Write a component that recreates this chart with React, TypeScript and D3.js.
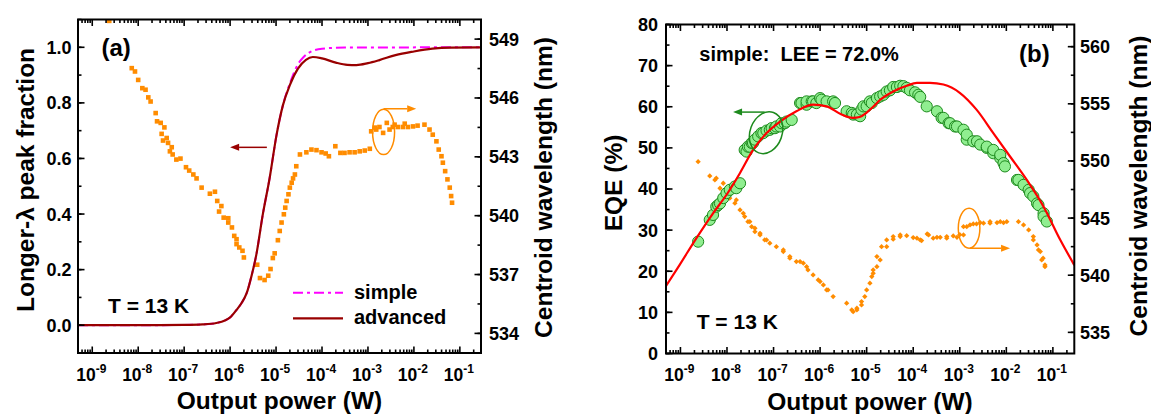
import React from "react";
import * as d3 from "d3";

const FONT = "'Liberation Sans', Arial, Helvetica, sans-serif";
const ORANGE = "#ff8c00";
const DARKRED = "#990000";
const MAGENTA = "#ff00ff";
const RED = "#ff0000";
const GREEN_FILL = "#90ee90";
const GREEN_STROKE = "#1d8a1d";

// all x values are log10(output power / W)
const xExp = [-9, -8, -7, -6, -5, -4, -3, -2, -1];
const xDomain = [Math.pow(10, -9.31), Math.pow(10, -0.54)];

// ---- panel (a)
const aFracTicks = [0, 0.2, 0.4, 0.6, 0.8, 1.0];
const aWaveTicks = [534, 537, 540, 543, 546, 549];

const aAdvanced: [number, number][] = [
  [-9.31, 0], [-8, 0], [-7, 0.001], [-6.6, 0.003], [-6.3, 0.008], [-6.1, 0.018], [-6.0, 0.028],
  [-5.86, 0.055], [-5.75, 0.08], [-5.64, 0.115], [-5.53, 0.18], [-5.43, 0.253], [-5.29, 0.397],
  [-5.14, 0.529], [-4.99, 0.684], [-4.85, 0.792], [-4.7, 0.864], [-4.52, 0.924], [-4.35, 0.955],
  [-4.2, 0.965], [-4.0, 0.96], [-3.7, 0.945], [-3.45, 0.937], [-3.25, 0.936], [-3.0, 0.943],
  [-2.75, 0.954], [-2.4, 0.972], [-2.0, 0.985], [-1.6, 0.995], [-1.2, 0.999], [-0.54, 1.0],
];
const aSimple: [number, number][] = [
  [-9.31, 0], [-8, 0], [-7, 0.001], [-6.6, 0.003], [-6.3, 0.008], [-6.1, 0.018], [-6.0, 0.028],
  [-5.86, 0.055], [-5.75, 0.08], [-5.64, 0.115], [-5.53, 0.18], [-5.43, 0.253], [-5.29, 0.397],
  [-5.14, 0.529], [-4.99, 0.684], [-4.85, 0.792], [-4.7, 0.87], [-4.52, 0.94], [-4.4, 0.965],
  [-4.27, 0.982], [-4.0, 0.995], [-3.5, 0.999], [-0.54, 1.0],
];
const aCentroid: [number, number][] = [
  [-8.63, 549.93], [-8.14, 547.52], [-8.07, 547.35], [-8.0, 546.92], [-7.91, 546.5], [-7.84, 546.42],
  [-7.78, 546.03], [-7.73, 545.82], [-7.62, 545.23], [-7.59, 544.81], [-7.51, 544.73], [-7.49, 544.17],
  [-7.46, 543.83], [-7.43, 544.5], [-7.38, 543.96], [-7.35, 543.71], [-7.31, 543.28], [-7.27, 543.49],
  [-7.25, 543.12], [-7.17, 542.86], [-7.08, 542.91], [-6.96, 542.47], [-6.89, 542.3], [-6.8, 542.1],
  [-6.73, 541.9], [-6.62, 541.43], [-6.44, 541.12], [-6.33, 541.22], [-6.28, 540.75], [-6.24, 540.21],
  [-6.19, 540.49], [-6.14, 539.9], [-6.04, 539.87], [-6.04, 539.65], [-5.96, 539.4], [-5.91, 538.97],
  [-5.86, 538.8], [-5.86, 538.55], [-5.8, 538.38], [-5.73, 538.21], [-5.7, 537.87], [-5.41, 537.5],
  [-5.35, 536.82], [-5.25, 536.72], [-5.17, 536.94], [-5.12, 537.28], [-5.07, 537.84], [-5.03, 538.08],
  [-4.96, 538.75], [-4.92, 539.22], [-4.88, 539.65], [-4.83, 540.07], [-4.8, 540.41], [-4.77, 540.75],
  [-4.73, 541.09], [-4.7, 541.43], [-4.66, 541.68], [-4.63, 541.9], [-4.59, 542.1], [-4.56, 542.52],
  [-4.48, 543.12], [-4.34, 543.23], [-4.23, 543.37], [-4.12, 543.34], [-4.01, 543.23], [-3.92, 543.17],
  [-3.85, 543.03], [-3.71, 543.54], [-3.6, 543.2], [-3.51, 543.2], [-3.4, 543.23], [-3.29, 543.23],
  [-3.18, 543.28], [-3.07, 543.32], [-2.96, 543.41], [-2.93, 544.3], [-2.85, 544.49], [-2.82, 544.39],
  [-2.75, 544.52], [-2.67, 544.22], [-2.59, 544.73], [-2.53, 544.39], [-2.46, 544.52], [-2.42, 544.64],
  [-2.35, 544.52], [-2.24, 544.52], [-2.2, 544.69], [-2.13, 544.52], [-2.02, 544.55], [-1.92, 544.59],
  [-1.77, 544.64], [-1.66, 544.39], [-1.59, 544.13], [-1.51, 543.79], [-1.46, 543.37], [-1.4, 543.03],
  [-1.37, 542.7], [-1.32, 542.27], [-1.27, 541.85], [-1.22, 541.43], [-1.19, 541.0], [-1.17, 540.66],
];

// ---- panel (b)
const bEqeTicks = [0, 10, 20, 30, 40, 50, 60, 70, 80];
const bWaveTicks = [535, 540, 545, 550, 555, 560];

const bModel: [number, number][] = [
  [-9.31, 16.4], [-9.02, 21.5], [-8.66, 28.0], [-8.3, 34.1], [-8.01, 38.6], [-7.72, 43.9], [-7.44, 49.5],
  [-7.15, 53.6], [-6.86, 56.4], [-6.51, 58.9], [-6.15, 60.5], [-5.86, 60.1], [-5.57, 58.3], [-5.3, 57.3],
  [-5.15, 57.5], [-5.0, 58.6], [-4.86, 60.0], [-4.71, 61.7], [-4.43, 63.7], [-4.14, 65.1], [-3.92, 65.8],
  [-3.64, 65.8], [-3.35, 65.4], [-3.0, 63.4], [-2.64, 59.3], [-2.28, 53.6], [-1.92, 47.9], [-1.56, 42.2],
  [-1.2, 35.7], [-0.84, 27.6], [-0.54, 21.5],
];
const bEqe: [number, number][] = [
  [-8.62, 27.2], [-8.37, 32.5], [-8.3, 33.7], [-8.23, 35.7], [-8.19, 36.1], [-8.15, 36.5], [-8.08, 37.8],
  [-8.01, 39.0], [-7.94, 39.8], [-7.83, 40.6], [-7.8, 40.2], [-7.72, 41.4], [-7.62, 49.5], [-7.58, 49.1],
  [-7.55, 50.3], [-7.51, 50.3], [-7.47, 51.2], [-7.44, 51.2], [-7.4, 52.0], [-7.33, 52.8], [-7.26, 53.6],
  [-7.22, 53.6], [-7.15, 54.2], [-7.08, 54.4], [-7.04, 54.8], [-6.97, 54.8], [-6.94, 55.2], [-6.86, 55.2],
  [-6.83, 56.0], [-6.76, 56.0], [-6.72, 56.4], [-6.61, 56.8], [-6.43, 60.9], [-6.4, 60.9], [-6.29, 60.5],
  [-6.29, 61.3], [-6.18, 61.3], [-6.15, 61.3], [-6.08, 60.9], [-6.0, 62.1], [-5.97, 61.7], [-5.86, 61.3],
  [-5.72, 61.3], [-5.68, 60.9], [-5.43, 58.9], [-5.32, 58.5], [-5.29, 58.1], [-5.21, 58.1], [-5.14, 57.7],
  [-5.11, 59.3], [-5.07, 60.1], [-5.0, 60.1], [-4.93, 61.3], [-4.89, 60.9], [-4.78, 62.1], [-4.71, 62.5],
  [-4.64, 62.9], [-4.57, 63.7], [-4.5, 64.0], [-4.43, 64.8], [-4.35, 64.8], [-4.28, 65.1], [-4.21, 65.0],
  [-4.14, 64.6], [-4.07, 64.0], [-3.96, 63.5], [-3.89, 62.9], [-3.85, 62.4], [-3.71, 60.1], [-3.49, 58.9],
  [-3.39, 57.3], [-3.35, 57.3], [-3.24, 56.0], [-3.21, 56.0], [-3.1, 55.2], [-3.06, 55.2], [-2.92, 54.4],
  [-2.85, 52.0], [-2.85, 53.2], [-2.71, 51.6], [-2.63, 51.6], [-2.56, 50.8], [-2.42, 50.0], [-2.42, 50.3],
  [-2.28, 48.7], [-2.28, 49.5], [-2.13, 47.5], [-2.13, 48.3], [-2.06, 46.3], [-2.03, 45.5], [-1.77, 42.2],
  [-1.74, 42.2], [-1.63, 41.0], [-1.52, 39.8], [-1.49, 39.0], [-1.42, 38.2], [-1.34, 36.5], [-1.31, 36.1],
  [-1.2, 34.1], [-1.2, 33.3], [-1.13, 32.1],
];
const bCentroid: [number, number][] = [
  [-8.62, 549.94], [-8.37, 548.69], [-8.26, 548.34], [-8.23, 548.49], [-8.15, 547.61], [-8.08, 548.05],
  [-8.05, 547.03], [-7.94, 546.74], [-7.94, 547.31], [-7.83, 546.3], [-7.8, 546.59], [-7.72, 545.71],
  [-7.65, 545.42], [-7.62, 545.13], [-7.55, 544.69], [-7.51, 544.69], [-7.47, 544.25], [-7.4, 543.81],
  [-7.4, 544.11], [-7.29, 543.53], [-7.29, 543.67], [-7.19, 543.09], [-7.15, 543.09], [-7.08, 542.8],
  [-6.94, 542.5], [-6.79, 542.07], [-6.79, 542.21], [-6.65, 541.49], [-6.65, 541.63], [-6.51, 541.19],
  [-6.43, 541.19], [-6.36, 541.05], [-6.29, 540.75], [-6.26, 540.46], [-6.15, 540.03], [-6.04, 539.59],
  [-6.0, 539.44], [-5.93, 539.15], [-5.86, 538.71], [-5.83, 538.71], [-5.72, 538.13], [-5.43, 537.55],
  [-5.32, 536.96], [-5.29, 536.81], [-5.21, 537.11], [-5.21, 536.96], [-5.11, 537.69], [-5.11, 537.4],
  [-5.04, 538.13], [-5.0, 538.71], [-4.93, 539.3], [-4.89, 539.88], [-4.86, 540.17], [-4.86, 540.46],
  [-4.78, 540.75], [-4.78, 541.63], [-4.71, 541.34], [-4.68, 542.5], [-4.57, 543.09], [-4.57, 542.5],
  [-4.43, 543.38], [-4.43, 543.15], [-4.28, 543.53], [-4.28, 543.38], [-4.14, 543.46], [-4.0, 543.29],
  [-3.92, 543.24], [-3.85, 543.09], [-3.82, 543.03], [-3.7, 543.61], [-3.67, 543.53], [-3.57, 543.24],
  [-3.49, 543.32], [-3.42, 543.32], [-3.28, 543.38], [-3.28, 543.24], [-3.14, 543.44], [-3.06, 543.32],
  [-3.0, 543.55], [-2.92, 543.53], [-2.92, 544.25], [-2.85, 544.25], [-2.78, 544.4], [-2.71, 544.49],
  [-2.64, 544.49], [-2.56, 544.6], [-2.49, 544.55], [-2.35, 544.55], [-2.35, 544.69], [-2.2, 544.6],
  [-2.13, 544.69], [-2.06, 544.6], [-1.99, 544.69], [-1.74, 544.69], [-1.63, 544.4], [-1.52, 543.96],
  [-1.42, 543.38], [-1.42, 543.09], [-1.34, 542.65], [-1.31, 542.21], [-1.27, 542.07], [-1.24, 541.34],
  [-1.21, 541.49], [-1.17, 540.9], [-1.17, 540.75],
];

type Lin = d3.ScaleLinear<number, number>;
type Log = d3.ScaleLogarithmic<number, number>;

function Frame(props: {
  x: Log; yL: Lin; yR: Lin;
  lTicks: number[]; lStep: number; lFmt: (v: number) => string; lLabelX: number;
  rTicks: number[]; rStep: number; rLabelX: number;
}) {
  const { x, yL, yR, lTicks, lStep, lFmt, lLabelX, rTicks, rStep, rLabelX } = props;
  const [x0, x1] = x.range();
  const [yb, yt] = yL.range();
  const majors = xExp.map((e) => Math.pow(10, e));
  const minors: number[] = [];
  for (let e = -10; e <= 0; e++)
    for (let k = 2; k <= 9; k++) {
      const px = x(k * Math.pow(10, e));
      if (px > x0 + 1 && px < x1 - 1) minors.push(px);
    }
  const lMin: number[] = [];
  const [ld0, ld1] = yL.domain();
  for (let v = Math.ceil(ld0 / lStep - 1e-6) * lStep; v <= ld1 + 1e-6; v += lStep) lMin.push(yL(v));
  const rMin: number[] = [];
  const [rd0, rd1] = yR.domain();
  for (let v = Math.ceil(rd0 / rStep - 1e-6) * rStep; v <= rd1 + 1e-6; v += rStep) rMin.push(yR(v));
  const tk = { stroke: "#000", strokeWidth: 1.6 };
  return (
    <g fontFamily={FONT} fontWeight="bold">
      {minors.map((px, i) => (
        <g key={"m" + i}>
          <line x1={px} x2={px} y1={yb} y2={yb - 3.5} {...tk} />
          <line x1={px} x2={px} y1={yt} y2={yt + 3.5} {...tk} />
        </g>
      ))}
      {majors.map((v, i) => (
        <g key={"M" + i}>
          <line x1={x(v)} x2={x(v)} y1={yb} y2={yb - 6.5} {...tk} />
          <line x1={x(v)} x2={x(v)} y1={yt} y2={yt + 6.5} {...tk} />
          <text x={x(v) - 1} y={380.7} textAnchor="middle" fontSize={17.5}>
            10<tspan dy={-8} fontSize={12}>{String(xExp[i])}</tspan>
          </text>
        </g>
      ))}
      {lMin.map((py, i) => (
        <line key={"lm" + i} x1={x0} x2={x0 + 3.5} y1={py} y2={py} {...tk} />
      ))}
      {lTicks.map((v) => (
        <g key={"l" + v}>
          <line x1={x0} x2={x0 + 6.5} y1={yL(v)} y2={yL(v)} {...tk} />
          <text x={lLabelX} y={yL(v)} dy="0.36em" textAnchor="end" fontSize={18}>{lFmt(v)}</text>
        </g>
      ))}
      {rMin.map((py, i) => (
        <line key={"rm" + i} x1={x1} x2={x1 - 3.5} y1={py} y2={py} {...tk} />
      ))}
      {rTicks.map((v) => (
        <g key={"r" + v}>
          <line x1={x1} x2={x1 - 6.5} y1={yR(v)} y2={yR(v)} {...tk} />
          <text x={rLabelX} y={yR(v)} dy="0.36em" textAnchor="start" fontSize={18}>{v}</text>
        </g>
      ))}
      <rect x={x0} y={yt} width={x1 - x0} height={yb - yt} fill="none" stroke="#000" strokeWidth={2} />
    </g>
  );
}

function Arrow({ x1, y1, x2, y2, color }: { x1: number; y1: number; x2: number; y2: number; color: string }) {
  const ang = Math.atan2(y2 - y1, x2 - x1);
  const L = 9, W = 3.5;
  const bx = x2 - L * Math.cos(ang), by = y2 - L * Math.sin(ang);
  const px = -Math.sin(ang) * W, py = Math.cos(ang) * W;
  return (
    <g>
      <line x1={x1} y1={y1} x2={bx} y2={by} stroke={color} strokeWidth={1.5} />
      <polygon points={`${x2},${y2} ${bx + px},${by + py} ${bx - px},${by - py}`} fill={color} />
    </g>
  );
}

function VTitle({ cx, cy, text }: { cx: number; cy: number; text: string }) {
  return (
    <text transform={`translate(${cx},${cy}) rotate(-90)`} dy="0.36em" textAnchor="middle"
      fontFamily={FONT} fontWeight="bold" fontSize={24.5}>{text}</text>
  );
}

export default function App() {
  const p = (e: number) => Math.pow(10, e);

  const aX = d3.scaleLog().domain(xDomain).range([78, 481]);
  const aYL = d3.scaleLinear().domain([-0.1, 1.1]).range([353, 19.5]);
  const aYR = d3.scaleLinear().domain([533, 550]).range([353, 19.5]);

  const bX = d3.scaleLog().domain(xDomain).range([666, 1074.3]);
  const bYL = d3.scaleLinear().domain([0, 80]).range([353.5, 24.5]);
  const bYR = d3.scaleLinear().domain([533.15, 561.94]).range([353.5, 24.5]);

  const aLine = d3.line<[number, number]>().x((d) => aX(p(d[0]))).y((d) => aYL(d[1])).curve(d3.curveMonotoneX);
  const bLine = d3.line<[number, number]>().x((d) => bX(p(d[0]))).y((d) => bYL(d[1])).curve(d3.curveMonotoneX);
  const diamond = d3.symbol(d3.symbolSquare, 14)() as string;

  return (
    <svg width={1151} height={414} style={{ position: "absolute", left: 0, top: 0, background: "#fff" }}>
      <defs>
        <clipPath id="clipA"><rect x={78} y={19.5} width={403} height={333.5} /></clipPath>
        <clipPath id="clipB"><rect x={666} y={24.5} width={408.3} height={329} /></clipPath>
      </defs>

      {/* panel (a) */}
      <g clipPath="url(#clipA)">
        {aCentroid.map((d, i) => (
          <rect key={i} x={aX(p(d[0])) - 2.3} y={aYR(d[1]) - 2.3} width={4.6} height={4.6} fill={ORANGE} />
        ))}
        <path d={aLine(aSimple) || ""} fill="none" stroke={MAGENTA} strokeWidth={2} strokeDasharray="10,4,3,4" />
        <path d={aLine(aAdvanced) || ""} fill="none" stroke={DARKRED} strokeWidth={2.2} />
      </g>
      <Arrow x1={aX(p(-5.2))} y1={aYL(0.64)} x2={aX(p(-6.0))} y2={aYL(0.64)} color={DARKRED} />
      <ellipse cx={aX(p(-2.66))} cy={aYR(544.27)} rx={11} ry={22.7} fill="none" stroke={ORANGE} strokeWidth={1.5} />
      <Arrow x1={aX(p(-2.66))} y1={aYR(545.45)} x2={aX(p(-1.95))} y2={aYR(545.45)} color={ORANGE} />
      <Frame x={aX} yL={aYL} yR={aYR} lTicks={aFracTicks} lStep={0.1} lFmt={(v) => v.toFixed(1)} lLabelX={71.5}
        rTicks={aWaveTicks} rStep={1.5} rLabelX={489} />
      <g fontFamily={FONT} fontWeight="bold">
        <text x={101.5} y={56} fontSize={24}>(a)</text>
        <text x={108} y={313.3} fontSize={21}>T = 13 K</text>
        <line x1={293} x2={343} y1={292.7} y2={292.7} stroke={MAGENTA} strokeWidth={2} strokeDasharray="10,4,3,4" />
        <text x={354} y={299} fontSize={20}>simple</text>
        <line x1={293} x2={343} y1={318.3} y2={318.3} stroke={DARKRED} strokeWidth={2.2} />
        <text x={354} y={324.3} fontSize={20}>advanced</text>
        <text x={279.5} y={408.5} textAnchor="middle" fontSize={24.5}>Output power (W)</text>
      </g>
      <VTitle cx={25.5} cy={180} text="Longer-λ peak fraction" />
      <VTitle cx={543} cy={187.5} text="Centroid wavelength (nm)" />

      {/* panel (b) */}
      <g clipPath="url(#clipB)">
        {bCentroid.map((d, i) => (
          <path key={i} d={diamond} transform={`translate(${bX(p(d[0]))},${bYR(d[1])}) rotate(45)`} fill={ORANGE} />
        ))}
        {bEqe.map((d, i) => (
          <circle key={i} cx={bX(p(d[0]))} cy={bYL(d[1])} r={5.6} fill={GREEN_FILL} stroke={GREEN_STROKE} strokeWidth={1} />
        ))}
        <path d={bLine(bModel) || ""} fill="none" stroke={RED} strokeWidth={2.2} />
      </g>
      <ellipse cx={0} cy={0} rx={16} ry={21.5} fill="none" stroke={GREEN_STROKE} strokeWidth={1.5}
        transform={`translate(${bX(p(-7.16))},${bYL(53.7)}) rotate(20)`} />
      <Arrow x1={bX(p(-7.19))} y1={bYL(58.7)} x2={bX(p(-7.87))} y2={bYL(58.7)} color={GREEN_STROKE} />
      <ellipse cx={bX(p(-2.8))} cy={bYR(544.11)} rx={10.8} ry={20} fill="none" stroke={ORANGE} strokeWidth={1.5} />
      <Arrow x1={bX(p(-2.78))} y1={bYR(542.36)} x2={bX(p(-1.92))} y2={bYR(542.36)} color={ORANGE} />
      <Frame x={bX} yL={bYL} yR={bYR} lTicks={bEqeTicks} lStep={5} lFmt={(v) => String(v)} lLabelX={658}
        rTicks={bWaveTicks} rStep={2.5} rLabelX={1080} />
      <g fontFamily={FONT} fontWeight="bold">
        <text x={1019} y={62} fontSize={24}>(b)</text>
        <text x={699.3} y={61} fontSize={20} style={{ whiteSpace: "pre" }}>simple:  LEE = 72.0%</text>
        <text x={696.7} y={329.3} fontSize={21}>T = 13 K</text>
        <text x={870} y={410} textAnchor="middle" fontSize={24.5}>Output power (W)</text>
      </g>
      <VTitle cx={613} cy={183} text="EQE (%)" />
      <VTitle cx={1138} cy={186} text="Centroid wavelength (nm)" />
    </svg>
  );
}
